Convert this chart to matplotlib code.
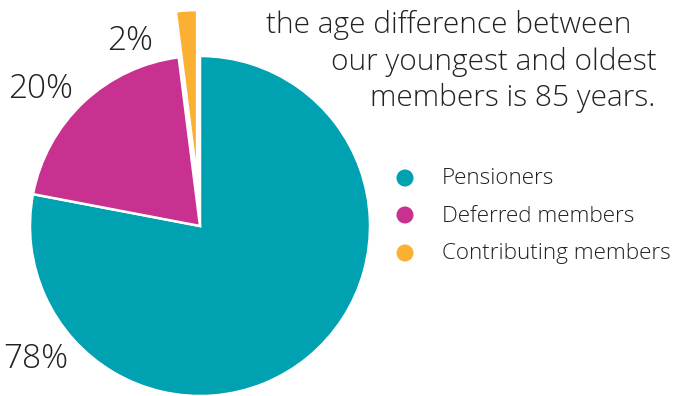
import matplotlib
matplotlib.use("Agg")
import matplotlib.pyplot as plt

categories = ["Pensioners", "Deferred members", "Contributing members"]
values = [78, 20, 2]
colors = ["#00A1B1", "#C8318F", "#FBB034"]
note_lines = ["the age difference between", "our youngest and oldest", "members is 85 years."]

W, H = 676, 396
fig = plt.figure(figsize=(W / 100, H / 100), dpi=100)
ax = fig.add_axes([0, 0, 1, 1])

def py(y):
    return H - y

font = ["Open Sans", "DejaVu Sans"]
tcol = "#222222"
wt = "light"

ax.pie(values, colors=colors, startangle=90, counterclock=False,
       center=(200, py(226)), radius=170, explode=[0, 0, 46],
       wedgeprops=dict(edgecolor="white", linewidth=1.8))
ax.set_xlim(0, W)
ax.set_ylim(0, H)
ax.set_aspect("equal")
ax.axis("off")

# percentage labels
label_pos = [(36, 359), (41, 89), (130, 41)]
for v, (x, y) in zip(values, label_pos):
    ax.text(x, py(y), f"{v}%", ha="center", va="center", fontsize=24,
            color=tcol, family=font, weight=wt)

# note text
note_pos = [(631, 33, "right"), (657, 70, "right"), (513, 106, "center")]
for line, (x, y, ha) in zip(note_lines, note_pos):
    ax.text(x, py(y), line, ha=ha, va="baseline", fontsize=21.5,
            color=tcol, family=font, weight=wt)

# legend
rows = [179, 216, 254]
for lab, col, y in zip(categories, colors, rows):
    ax.scatter([405], [py(y - 1)], s=17**2 * 0.52, color=col, edgecolors="none")
    ax.text(442, py(y), lab, ha="left", va="center", fontsize=16.2,
            color=tcol, family=font, weight=wt)

fig.savefig("out.png", dpi=100)
